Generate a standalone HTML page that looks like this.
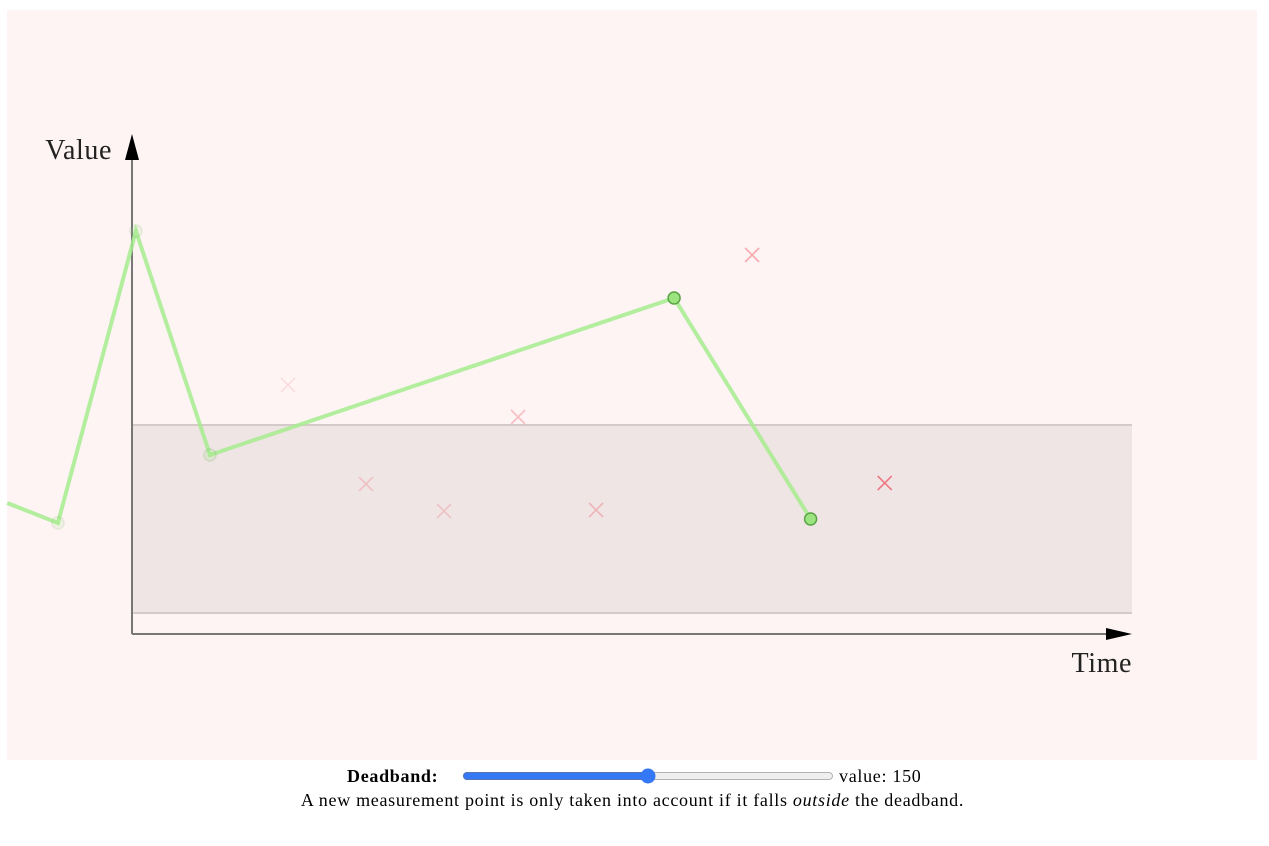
<!DOCTYPE html>
<html><head><meta charset="utf-8"><style>
body{margin:0;background:#fff;font-family:"Liberation Serif",serif;width:1269px;height:846px;overflow:hidden}
svg{position:absolute;left:0;top:0}
#ctrl{position:absolute;left:0;top:766px;width:1269px;font-size:18px;letter-spacing:0.7px;color:#000}
#row{position:relative;height:24px}
#lbl{position:absolute;left:347px;top:0px;font-weight:bold}
#sl{position:absolute;left:462px;top:3px;width:372px;height:14px;margin:0}
#val{position:absolute;left:839px;top:0px}
#desc{position:absolute;left:0;top:24px;width:1265px;text-align:center}
</style></head><body>
<svg width="1269" height="760">
<rect x="7" y="10" width="1250" height="750" fill="#fdf4f3"/>
<g id="band"></g>
<line x1="132" y1="634" x2="132" y2="150" stroke="#777" stroke-width="2"/>
<polygon points="125,160 132,134 139,160" fill="#000"/>
<line x1="132" y1="634" x2="1110" y2="634" stroke="#777" stroke-width="2"/>
<polygon points="1106,628 1132,634 1106,640" fill="#000"/>
<text x="112" y="159" text-anchor="end" font-size="28" letter-spacing="0.6" font-family="Liberation Serif" fill="#222">Value</text>
<text x="1132" y="672" text-anchor="end" font-size="28" letter-spacing="0.6" font-family="Liberation Serif" fill="#222">Time</text>
<g id="marks"></g>
</svg>
<div id="ctrl">
<div id="row"><span id="lbl">Deadband:</span>
<input id="sl" type="range" min="0" max="300" value="150" style="accent-color:#3478f6">
<span id="val">value: 150</span></div>
<div id="desc">A new measurement point is only taken into account if it falls <i>outside</i> the deadband.</div>
</div>
<script>
// data: time index and value (value axis origin 0 at x-axis)
const times=[-1.6,-0.95,0.05,1.0,2.0,3.0,4.0,4.95,5.95,6.95,7.95,8.7,9.65];
const values=[131,111,403,179,249,150,123,217,124,336,379,115,151];
// 0=faint accepted point, 1=rejected, 2=accepted active
const kinds=[0,0,0,0,1,1,1,1,1,2,1,2,1];
const opac=[0,0.15,0.15,0.2,0.15,0.25,0.25,0.35,0.35,1,0.5,1,0.8];
const bandLow=21, bandHigh=209;
const X0=132,Y0=634,SX=78;
const xs=t=>X0+t*SX, ys=v=>Y0-v;
const ns="http://www.w3.org/2000/svg";
const band=document.getElementById('band'),marks=document.getElementById('marks');
let r=document.createElementNS(ns,'rect');
r.setAttribute('x',X0);r.setAttribute('y',ys(bandHigh));r.setAttribute('width',1000);r.setAttribute('height',bandHigh-bandLow);
r.setAttribute('fill','#efe5e4');


band.appendChild(r);
[bandHigh,bandLow].forEach(v=>{let l=document.createElementNS(ns,'line');
l.setAttribute('x1',X0);l.setAttribute('x2',1132);l.setAttribute('y1',ys(v));l.setAttribute('y2',ys(v));
l.setAttribute('stroke','#d5c9c9');l.setAttribute('stroke-width','2');


band.appendChild(l);});
let pts=[];kinds.forEach((k,i)=>{if(k!==1)pts.push(xs(times[i])+','+ys(values[i]));});
let pl=document.createElementNS(ns,'polyline');
pl.setAttribute('points',pts.join(' '));pl.setAttribute('fill','none');pl.setAttribute('stroke','#a6ec8e');pl.setAttribute('stroke-width','4');pl.setAttribute('stroke-opacity','0.85');


marks.appendChild(pl);
kinds.forEach((k,i)=>{const x=xs(times[i]),y=ys(values[i]);
if(k===1){let g=document.createElementNS(ns,'path');
g.setAttribute('d',`M${x-7},${y-7}L${x+7},${y+7}M${x+7},${y-7}L${x-7},${y+7}`);
g.setAttribute('stroke','#ee4455');g.setAttribute('stroke-width','1.6');g.setAttribute('opacity',opac[i]*0.85);


marks.appendChild(g);}
else if(times[i]>-1.5){let c=document.createElementNS(ns,'circle');
c.setAttribute('cx',x);c.setAttribute('cy',y);c.setAttribute('r',6);
c.setAttribute('fill','#9be47f');c.setAttribute('stroke','#5aa345');c.setAttribute('stroke-width','1.5');c.setAttribute('opacity',opac[i]);


marks.appendChild(c);}});
</script>
</body></html>
